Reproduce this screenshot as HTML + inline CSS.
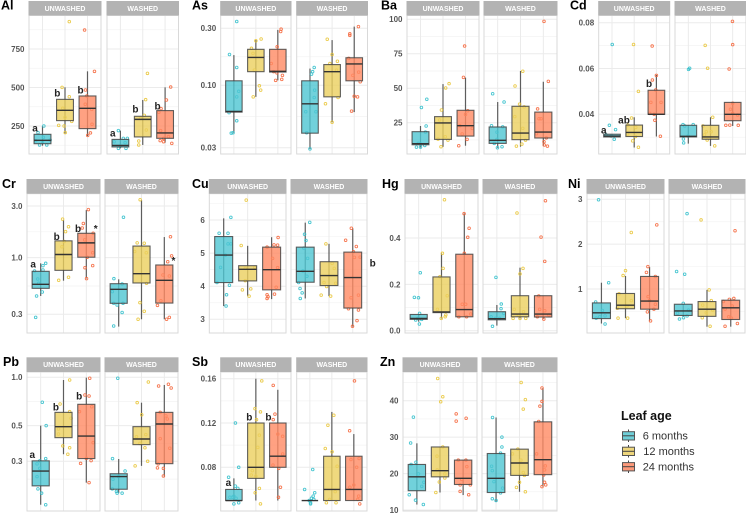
<!DOCTYPE html>
<html lang="en">
<head>
<meta charset="utf-8">
<title>Leaf element concentrations by leaf age and washing</title>
<style>
html,body{margin:0;padding:0;background:#fff;width:746px;height:514px;overflow:hidden}
svg{display:block;filter:blur(.35px);font-family:"Liberation Sans",sans-serif}
.tick{font-size:8px;font-weight:700;fill:#555;text-anchor:end}
.strip{font-size:7px;font-weight:700;fill:#fff;text-anchor:middle}
.title{font-size:12.5px;font-weight:700;fill:#000}
.note{font-size:10px;font-weight:700;fill:#222;text-anchor:middle}
.legend{font-size:11px;fill:#333}
</style>
</head>
<body>
<svg id="chart" xmlns="http://www.w3.org/2000/svg" width="746" height="514" viewBox="0 0 746 514">
<rect width="746" height="514" fill="#fff"/>
<g>
<text x="621" y="420" font-size="12.5" font-weight="700" fill="#111">Leaf age</text>
<g>
<path d="M628.5 429.5V442" stroke="#444" stroke-width="1"/>
<rect x="622.5" y="431.7" width="12" height="8.3" fill="#6fcfd8" stroke="#555" stroke-width="1"/>
<path d="M622.5 435.8H634.5" stroke="#444" stroke-width="1"/>
<text class="legend" x="642.7" y="439.6">6 months</text>
</g>
<g>
<path d="M628.5 445V457.5" stroke="#444" stroke-width="1"/>
<rect x="622.5" y="447.2" width="12" height="8.3" fill="#eed67c" stroke="#555" stroke-width="1"/>
<path d="M622.5 451.3H634.5" stroke="#444" stroke-width="1"/>
<text class="legend" x="643.3" y="455.2">12 months</text>
</g>
<g>
<path d="M628.5 460.5V473" stroke="#444" stroke-width="1"/>
<rect x="622.5" y="462.6" width="12" height="8.3" fill="#fd9a7b" stroke="#555" stroke-width="1"/>
<path d="M622.5 466.7H634.5" stroke="#444" stroke-width="1"/>
<text class="legend" x="642.7" y="470.6">24 months</text>
</g>
</g>
</svg>
<script>
const washStates = ['UNWASHED', 'WASHED'];
const leafAges = ['6 months', '12 months', '24 months'];

/* stats rows: [low whisker, q1, median, q3, high whisker]; order: unwashed 6/12/24, washed 6/12/24 */
/* point rows: [category-unit jitter, value] */
/* note rows: [group index, category-unit offset, value, label] */

const alTicks = [250, 500, 750];
const alTickLabels = ['250', '500', '750'];
const alStats = [[122,135,157,196,250],[202,285,352,423,501],[185,233,365,445,605],[105,114,124,163,220],[127,179,293,313,419],[142,170,205,350,501]];
const alPoints = [
[[.06,250],[-.2,207],[.04,176],[-.13,127],[.19,127],[-.3,155],[.34,159],[0,148]],
[[.19,928],[-.13,501],[.19,440],[-.28,254],[-.04,250],[.01,207],[-.1,365],[0,306],[.3,280]],
[[-.13,873],[.31,605],[-.09,484],[-.03,445],[-.1,391],[.19,358],[.2,261],[.13,205],[.01,189]],
[[-.09,220],[.13,170],[.31,170],[.21,142],[.25,105],[-.09,105],[-.28,148],[0,120]],
[[.21,592],[.13,421],[.07,319],[-.18,153],[-.18,127],[.16,224],[-.1,300]],
[[.25,503],[.06,419],[-.18,363],[-.28,339],[-.2,220],[-.07,170],[.3,137],[-.22,155],[-.07,148],[.15,181]]];
const alNotes = [[0,-.33,235,'a'],[1,-.34,460,'b'],[2,-.31,482,'b'],[3,-.34,202,'a'],[4,-.33,358,'b'],[5,-.34,378,'b']];

const asTicks = [0.03, 0.1, 0.3];
const asTickLabels = ['0.03', '0.10', '0.30'];
const asStats = [[.0397,.0596,.0604,.109,.179],[.08,.13,.171,.2,.239],[.11,.129,.131,.2,.291],[.0293,.0397,.07,.109,.138],[.049,.08,.13,.149,.239],[.0596,.109,.151,.17,.31]];
const asPoints = [
[[.13,.342],[-.2,.181],[.13,.141],[.22,.089],[.13,.08],[-.22,.059],[.13,.0504],[-.12,.0397],[-.04,.04]],
[[0,.236],[.24,.244],[-.2,.204],[-.13,.185],[-.07,.134],[.16,.099],[.22,.091],[-.12,.08]],
[[.15,.295],[.13,.282],[-.03,.21],[-.3,.152],[-.19,.13],[-.04,.127],[.21,.121],[-.1,.11],[.18,.112]],
[[.19,.141],[.12,.13],[.07,.124],[.21,.091],[.19,.079],[-.19,.06],[.27,.06],[-.15,.04],[0,.0293]],
[[-.22,.243],[0,.181],[.24,.159],[-.1,.152],[-.3,.07],[0,.049],[.27,.079],[.2,.134]],
[[.19,.31],[-.2,.27],[-.2,.262],[-.25,.168],[.2,.129],[-.06,.121],[.27,.107],[0,.081],[.15,.08],[-.12,.0608]]];
const asNotes = [];

const baTicks = [25, 50, 75, 100];
const baTickLabels = ['25', '50', '75', '100'];
const baStats = [[7,9,9.8,18.5,22.6],[7.5,12.9,24.8,29.4,53],[8.3,15.3,22.8,34,57.7],[6.8,10,12.2,21.9,40],[7.6,12.7,17.5,36.9,62.5],[8.3,13.9,18.2,32.7,54.7]];
const baPoints = [
[[.28,42],[.04,36],[.25,22.6],[.22,18.2],[-.18,7.3],[0,7.3],[.19,8.5],[.01,9.5],[-.1,10]],
[[.27,53.3],[.12,50.2],[-.07,34.2],[-.09,7.6],[-.22,13.1],[.1,14.8],[.22,12.4],[-.15,27]],
[[-.04,80.6],[-.09,57.9],[.1,33.7],[0,31],[-.25,22.8],[-.15,16.8],[.3,20.9],[.07,12.9],[-.3,8.3]],
[[-.22,46],[.28,40],[-.27,22.8],[-.03,18.2],[.22,22],[-.03,12.9],[-.01,6.8],[.19,7.6],[-.15,10]],
[[.1,62.3],[-.24,51.6],[-.04,38.5],[-.25,29.4],[.1,20.9],[.16,36.5],[-.18,8],[.06,9.5],[.22,12.4]],
[[.03,98.5],[.22,55],[-.25,35],[-.19,27.9],[-.1,27.9],[.13,14],[.03,11.2],[.04,8.8],[.18,8],[-.3,17]]];
const baNotes = [];

const cdTicks = [0.04, 0.06, 0.08];
const cdTickLabels = ['0.04', '0.06', '0.08'];
const cdStats = [[.0301,.0301,.0305,.0313,.0313],[.0255,.0303,.0321,.0353,.0387],[.0303,.04,.04,.0505,.0572],[.0272,.0301,.0304,.0352,.0353],[.0262,.0291,.0301,.0352,.0387],[.0349,.0372,.04,.0452,.0451]];
const cdPoints = [
[[.01,.0705],[-.12,.0352],[.16,.0333],[.1,.0291],[-.27,.031],[-.04,.0305]],
[[-.03,.0705],[.19,.05],[-.12,.0384],[-.28,.0353],[.07,.0343],[-.3,.0314],[.06,.0303],[-.07,.0284],[.19,.0256]],
[[-.19,.0698],[0,.057],[-.18,.055],[-.03,.0506],[-.25,.0452],[.21,.0452],[-.3,.0404],[-.1,.04],[-.07,.0374],[.18,.0304]],
[[.06,.0601],[.01,.0596],[-.24,.0355],[.22,.0355],[-.16,.0349],[-.22,.0292],[-.21,.0275],[-.01,.0305]],
[[-.24,.0701],[-.13,.0601],[.1,.0387],[-.34,.0349],[.03,.0324],[-.19,.0324],[-.15,.0288],[.19,.0262],[-.27,.031]],
[[-.01,.0806],[0,.0704],[-.16,.0598],[0,.0448],[-.1,.0422],[.22,.0397],[0,.0404],[-.31,.0352],[-.13,.0353],[.25,.0352]]];
const cdNotes = [[0,-.37,.0329,'a'],[1,-.46,.0374,'ab'],[2,-.33,.0532,'b']];

const crTicks = [0.3, 1, 3];
const crTickLabels = ['0.3', '1.0', '3.0'];
const crStats = [[.443,.521,.567,.748,.887],[.613,.764,1.07,1.43,2.23],[.644,1.01,1.37,1.68,2.75],[.231,.379,.51,.575,.631],[.27,.584,.712,1.28,3.4],[.27,.381,.618,.856,1.55]];
const crPoints = [
[[.22,.887],[.1,.844],[.1,.77],[-.27,.753],[-.13,.635],[.07,.482],[-.18,.443],[-.22,.281],[-.09,.58]],
[[-.04,2.27],[.22,1.93],[.09,1.74],[.03,1.41],[-.21,.618],[.22,.659],[-.07,1.26]],
[[.09,2.78],[-.13,2.07],[-.18,1.88],[.3,1.68],[-.07,1.46],[.28,1.11],[.04,1.01],[.28,.844],[-.06,.808],[.01,.64]],
[[.21,2.36],[-.21,.64],[.15,.571],[-.28,.486],[-.07,.366],[-.22,.379],[.15,.312],[-.22,.234],[.19,.379]],
[[-.06,3.43],[-.19,1.37],[.12,1.36],[-.3,1.14],[.21,1.11],[-.07,.385],[.12,.32],[-.15,.27],[.22,.58]],
[[.27,1.56],[.32,1.04],[.15,.918],[-.06,.692],[.22,.677],[-.15,.4],[-.3,.363],[.1,.27],[.22,.281]]];
const crNotes = [[0,-.33,.868,'a'],[1,-.3,1.55,'b'],[2,-.36,1.83,'b'],[2,.41,1.83,'*'],[5,.4,.93,'*']];

const cuTicks = [3, 4, 5, 6];
const cuTickLabels = ['3', '4', '5', '6'];
const cuStats = [[3.4,4.11,4.94,5.5,6.05],[3.7,4.16,4.51,4.62,5.22],[3.61,3.89,4.5,5.18,5.48],[3.63,4.12,4.45,5.18,5.92],[3.7,4.02,4.32,4.74,5.28],[2.78,3.34,4.26,5.03,5.75]];
const cuPoints = [
[[.3,6.08],[-.19,5.6],[.18,5.6],[.18,5.28],[.3,5.28],[-.13,4.57],[-.28,4.11],[.24,4.03],[.12,3.74],[.1,3.4],[.07,4.94]],
[[-.06,6.6],[-.27,5.23],[.3,4.57],[-.1,4.17],[-.22,3.89],[.13,3.92],[.06,3.7],[-.1,4.54]],
[[.27,5.47],[.1,5.25],[.25,5.24],[-.19,5.18],[.04,4.84],[.25,4.56],[.19,3.97],[-.19,3.74],[.12,3.76],[-.19,3.63],[-.15,3.68]],
[[.19,5.93],[-.03,5.57],[.03,5.38],[.1,4.84],[.07,4.3],[-.1,4.46],[-.28,4.11],[-.22,3.93],[-.13,3.8],[-.21,3.63],[-.06,5.15]],
[[-.13,5.28],[.22,4.54],[-.33,3.73],[.07,3.7],[-.1,3.99],[.28,4.09],[-.21,4.11],[.13,4.69]],
[[-.06,5.75],[-.3,5.39],[.15,5.2],[.03,5.04],[.07,4.87],[.31,4.88],[-.07,3.65],[.24,3.73],[-.18,3.32],[.24,3.28],[.18,2.96],[-.01,2.79]]];
const cuNotes = [[5,.84,4.68,'b']];

const hgTicks = [0, 0.2, 0.4];
const hgTickLabels = ['0.0', '0.2', '0.4'];
const hgStats = [[.039,.049,.053,.07,.0705],[.053,.078,.081,.232,.334],[.06,.06,.091,.33,.506],[.022,.047,.052,.082,.111],[.053,.06,.072,.151,.272],[.05,.059,.072,.151,.151]];
const hgPoints = [
[[.07,.25],[-.19,.144],[-.01,.142],[.04,.075],[.03,.029],[-.13,.046],[.13,.049],[-.04,.053]],
[[.13,.565],[.04,.334],[.07,.269],[-.07,.233],[.25,.151],[-.18,.092],[.19,.068],[-.01,.053],[.16,.06]],
[[-.01,.505],[.21,.442],[.15,.403],[0,.334],[-.09,.114],[.06,.114],[-.24,.06],[.1,.06],[.28,.072]],
[[-.04,.23],[.19,.115],[.18,.095],[-.19,.019],[-.07,.053],[.12,.053],[.3,.075],[-.25,.06]],
[[-.13,.508],[.13,.269],[0,.245],[-.25,.092],[.15,.082],[-.3,.053],[0,.053],[.25,.053],[-.07,.068]],
[[.1,.561],[-.09,.404],[.07,.299],[-.19,.15],[-.15,.092],[.07,.086],[-.25,.06],[.03,.05],[.25,.068]]];
const hgNotes = [];

const niTicks = [1, 2, 3];
const niTickLabels = ['1', '2', '3'];
const niStats = [[.23,.34,.47,.69,1.14],[.35,.56,.64,.9,1.29],[.29,.55,.73,1.28,1.49],[.38,.41,.51,.66,.66],[.16,.39,.55,.72,.98],[.16,.32,.58,.75,.79]];
const niPoints = [
[[-.12,2.99],[.3,1.14],[-.24,.71],[.04,.52],[.15,.4],[-.22,.35],[.15,.22],[-.07,.38]],
[[.24,2.26],[0,1.41],[-.1,1.3],[.24,.74],[-.31,.35],[.09,.35],[-.27,.89],[.06,.62],[-.34,.57]],
[[.3,2.43],[-.07,1.5],[-.13,1.37],[.24,1.28],[-.06,.83],[0,.74],[.24,.66],[-.09,.49],[.18,.55],[.04,.29]],
[[.16,2.68],[-.28,1.39],[.06,1.33],[0,.68],[.16,.4],[-.16,.33],[.01,.36],[-.24,.46],[.22,.53]],
[[-.25,2.54],[.09,.98],[.18,.74],[-.18,.64],[-.03,.47],[-.2,.36],[.13,.17],[.24,.53]],
[[.18,2.3],[.13,.79],[-.06,.77],[-.31,.72],[.06,.62],[-.24,.55],[.03,.35],[.28,.23],[-.24,.17],[-.09,.38]]];
const niNotes = [];

const pbTicks = [0.3, 0.5, 1];
const pbTickLabels = ['0.3', '0.5', '1.0'];
const pbStats = [[.161,.211,.261,.302,.5],[.332,.421,.493,.605,.962],[.221,.312,.431,.679,.995],[.19,.201,.241,.251,.31],[.281,.381,.413,.493,.695],[.241,.29,.512,.605,.896]];
const pbPoints = [
[[.07,.699],[.24,.5],[.22,.312],[-.04,.302],[-.16,.289],[-.04,.271],[-.16,.241],[-.12,.202],[.04,.19],[.22,.161]],
[[.27,.962],[-.15,.682],[.27,.611],[.33,.556],[-.22,.477],[-.22,.444],[-.03,.374],[.27,.364],[.19,.332]],
[[.15,.986],[-.06,.776],[.12,.765],[-.3,.611],[.24,.656],[.3,.392],[0,.313],[-.25,.291],[.21,.303],[.12,.221]],
[[-.04,.986],[-.27,.312],[.28,.261],[-.25,.232],[0,.241],[-.28,.202],[-.07,.19],[.15,.19],[-.1,.195]],
[[.3,.935],[-.19,.695],[.01,.585],[-.28,.281],[.27,.3],[.19,.44],[-.07,.388],[.15,.364],[-.22,.427]],
[[.18,.905],[.3,.858],[-.25,.883],[-.18,.605],[.07,.575],[.13,.55],[-.18,.415],[.24,.362],[-.3,.273],[-.04,.271],[-.04,.243],[-.27,.289]]];
const pbNotes = [[0,-.37,.328,'a'],[1,-.33,.65,'b'],[2,-.31,.758,'b']];

const sbTicks = [0.08, 0.12, 0.16];
const sbTickLabels = ['0.08', '0.12', '0.16'];
const sbStats = [[.05,.05,.05,.06,.07],[.05,.07,.08,.12,.16],[.05,.08,.09,.12,.15],[.05,.05,.05,.05,.05],[.05,.05,.06,.09,.13],[.05,.05,.06,.09,.11]];
const sbPoints = [
[[.07,.12],[.22,.08],[-.24,.071],[.07,.063],[.18,.061],[-.18,.053],[0,.054],[.1,.052],[0,.047],[.22,.048],[-.07,.053]],
[[.27,.158],[-.04,.133],[.21,.13],[.03,.123],[.16,.109],[.09,.098],[-.16,.077],[0,.072],[-.21,.073],[.16,.061],[-.03,.057],[.21,.047]],
[[-.21,.154],[-.13,.128],[-.21,.123],[0,.11],[.22,.108],[.22,.092],[-.22,.082],[.04,.079],[.12,.062],[.03,.053]],
[[-.24,.06],[.13,.078],[.22,.057],[.15,.054],[.07,.052],[.03,.048],[.03,.047],[-.03,.05],[.18,.051]],
[[.09,.127],[-.18,.118],[-.3,.097],[.01,.094],[.24,.081],[.15,.058],[-.1,.051],[-.25,.048],[.19,.048]],
[[.03,.158],[-.19,.113],[-.13,.087],[.24,.088],[.13,.08],[0,.064],[-.18,.062],[.22,.054],[.18,.051],[.27,.047]]];
const sbNotes = [[0,-.25,.0656,'a'],[1,-.3,.1248,'b'],[2,-.43,.1248,'b']];

const znTicks = [10, 20, 30, 40];
const znTickLabels = ['10', '20', '30', '40'];
const znStats = [[11.5,15.3,19.1,22.5,28.3],[14.8,19.1,20.8,27.3,27.3],[14.1,17,18.7,23.7,23.7],[12.3,14.8,18.7,25.5,35.4],[15,19.5,22.9,26.7,26.7],[16.4,19.7,23.8,34.2,43.5]];
const znPoints = [
[[-.15,35.5],[-.27,28.4],[-.04,23.1],[-.25,22.5],[.07,19.9],[.3,17.6],[.21,16.5],[-.33,14.2],[-.06,12.7],[.28,11.5]],
[[-.1,46.1],[.12,41.1],[.03,39.7],[.12,27.3],[-.13,24.8],[-.12,21],[.21,19.9],[.21,18.8],[-.03,17.7],[-.18,14.8]],
[[-.3,36.4],[-.3,34.4],[.13,35.2],[-.21,23.7],[.12,23.7],[.16,21.9],[-.06,18.4],[-.13,16.9],[.31,16.9],[-.13,15.1],[.24,14.2]],
[[-.15,35.4],[.25,30],[.25,27.3],[.19,25.6],[-.19,22],[-.16,20.8],[-.09,17.8],[.28,16],[.19,14.7],[-.16,13.1],[0,12.6]],
[[.07,45],[.25,40.3],[.16,37.7],[-.07,26.7],[-.3,25.4],[.06,23.7],[.16,20.3],[.21,19.5],[0,17.6],[-.13,16.2],[.25,15]],
[[-.04,43.5],[-.04,39.8],[-.13,38.5],[-.18,34.3],[-.27,25.4],[.1,22.1],[.07,21],[.07,17.6],[.12,16.9],[-.04,16.4],[.03,19.6]]];
const znNotes = [];

const facets = [
 {title:'Al', tx:1, ty:9.7, stats:alStats, points:alPoints, notes:alNotes, ticks:alTicks, labels:alTickLabels, log:false, domain:[250,750], range:[126,49], top:1, strip:15.5, bottom:154, u:[29,101], w:[107,178.5]},
 {title:'As', tx:192, ty:9.7, stats:asStats, points:asPoints, notes:asNotes, ticks:asTicks, labels:asTickLabels, log:true, domain:[0.03,0.3], range:[147.7,28.3], top:1, strip:15.5, bottom:154, u:[220.7,291], w:[296.7,367.5]},
 {title:'Ba', tx:381, ty:9.4, stats:baStats, points:baPoints, notes:baNotes, ticks:baTicks, labels:baTickLabels, log:false, domain:[25,100], range:[122.7,19.3], top:1, strip:15.5, bottom:154, u:[407,479], w:[484,557]},
 {title:'Cd', tx:570, ty:9.4, stats:cdStats, points:cdPoints, notes:cdNotes, ticks:cdTicks, labels:cdTickLabels, log:false, domain:[0.04,0.08], range:[114.3,22.7], top:1, strip:15.5, bottom:154, u:[598.7,669.7], w:[675,746]},
 {title:'Cr', tx:2, ty:188, stats:crStats, points:crPoints, notes:crNotes, ticks:crTicks, labels:crTickLabels, log:true, domain:[0.3,3], range:[314.3,206], top:179, strip:193.7, bottom:333, u:[27,100], w:[105,178]},
 {title:'Cu', tx:192, ty:188, stats:cuStats, points:cuPoints, notes:cuNotes, ticks:cuTicks, labels:cuTickLabels, log:false, domain:[3,6], range:[319.3,220], top:179, strip:193.7, bottom:333, u:[209.3,286], w:[291,367]},
 {title:'Hg', tx:382, ty:188, stats:hgStats, points:hgPoints, notes:hgNotes, ticks:hgTicks, labels:hgTickLabels, log:false, domain:[0,0.4], range:[330.7,238], top:179, strip:193.7, bottom:333, u:[405,478], w:[483,557]},
 {title:'Ni', tx:568, ty:188, stats:niStats, points:niPoints, notes:niNotes, ticks:niTicks, labels:niTickLabels, log:false, domain:[1,3], range:[289,199.3], top:179, strip:193.7, bottom:333, u:[587,664], w:[669,745]},
 {title:'Pb', tx:3, ty:366, stats:pbStats, points:pbPoints, notes:pbNotes, ticks:pbTicks, labels:pbTickLabels, log:true, domain:[0.3,1], range:[461.3,377.3], top:357.3, strip:372, bottom:511, u:[27,100], w:[105,178]},
 {title:'Sb', tx:192, ty:366, stats:sbStats, points:sbPoints, notes:sbNotes, ticks:sbTicks, labels:sbTickLabels, log:false, domain:[0.08,0.16], range:[467.3,378.7], top:357.3, strip:372, bottom:511, u:[220.7,291], w:[296.7,367]},
 {title:'Zn', tx:380, ty:366, stats:znStats, points:znPoints, notes:znNotes, ticks:znTicks, labels:znTickLabels, log:false, domain:[10,40], range:[510,400.7], top:357.3, strip:372, bottom:511, u:[403,477], w:[482,557]}
];

const NS = 'http://www.w3.org/2000/svg';
const root = document.getElementById('chart');
const ageFill = ['#4ec6d2', '#ebd05e', '#ff8a63'];
const agePoint = ['#35c0cc', '#e9c73c', '#f5693f'];

function make(parent, tag, attrs, text) {
  const node = document.createElementNS(NS, tag);
  for (const key in attrs) node.setAttribute(key, attrs[key]);
  if (text !== undefined) node.textContent = text;
  parent.appendChild(node);
  return node;
}
function yScale(f) {
  const t = f.log ? Math.log10 : (v => v);
  const d0 = t(f.domain[0]), d1 = t(f.domain[1]);
  return v => f.range[0] + (t(v) - d0) * (f.range[1] - f.range[0]) / (d1 - d0);
}
function xScale(span) {
  const unit = (span[1] - span[0]) / 3.2;
  return { unit: unit, at: pos => span[0] + (pos + 0.6) * unit };
}

facets.forEach(f => {
  const slug = f.title.toLowerCase();
  const y = yScale(f);
  const facet = make(root, 'g', {});
  
  

  const heading = make(facet, 'text', {class: 'title', x: f.tx, y: f.ty}, f.title);
  
  

  const tickYs = f.ticks.map(y);
  f.labels.forEach((label, i) => {
    const tick = make(facet, 'text', {class: 'tick', x: f.u[0] - 4.5, y: tickYs[i] + 2.9}, label);
    
    
  });

  const minorYs = [];
  tickYs.forEach((py, i) => { if (i) minorYs.push((py + tickYs[i - 1]) / 2); });
  const step = tickYs[0] - tickYs[1];
  minorYs.push(tickYs[0] + step / 2, tickYs[tickYs.length - 1] - step / 2);

  [f.u, f.w].forEach((span, p) => {
    const x = xScale(span);
    const panel = make(facet, 'g', {});
    
    

    minorYs.filter(py => py > f.strip && py < f.bottom).forEach(py => {
      const line = make(panel, 'line', {x1: span[0], x2: span[1], y1: py, y2: py, stroke: '#f3f3f3', 'stroke-width': 0.7});
      
      
    });
    tickYs.forEach(py => {
      const line = make(panel, 'line', {x1: span[0], x2: span[1], y1: py, y2: py, stroke: '#ebebeb', 'stroke-width': 1});
      
      
    });
    leafAges.forEach((age, c) => {
      const cx = x.at(c);
      const line = make(panel, 'line', {x1: cx, x2: cx, y1: f.strip, y2: f.bottom, stroke: '#ebebeb', 'stroke-width': 1});
      
      
    });

    leafAges.forEach((age, c) => {
      const idx = p * 3 + c;
      const cx = x.at(c);
      const halfW = 0.375 * x.unit;
      const s = f.stats[idx];
      const group = make(panel, 'g', {});
      
      

      const whisker = make(group, 'line', {x1: cx, x2: cx, y1: y(s[0]), y2: y(s[4]), stroke: '#444', 'stroke-width': 1.2, 'stroke-opacity': .85});
      
      

      f.points[idx].forEach(pt => {
        const dot = make(group, 'circle', {cx: cx + pt[0] * x.unit, cy: y(pt[1]), r: 1.3, fill: 'none', stroke: agePoint[c], 'stroke-width': .9, 'stroke-opacity': .9});
        
        
      });

      const box = make(group, 'rect', {x: cx - halfW, y: y(s[3]), width: 2 * halfW, height: Math.max(y(s[1]) - y(s[3]), 0), fill: ageFill[c], 'fill-opacity': .8, stroke: '#444', 'stroke-width': 1.1, 'stroke-opacity': .85});
      
      

      const median = make(group, 'line', {x1: cx - halfW, x2: cx + halfW, y1: y(s[2]), y2: y(s[2]), stroke: '#333', 'stroke-width': 1.4});
      
      
    });

    const frame = make(panel, 'rect', {x: span[0], y: f.strip, width: span[1] - span[0], height: f.bottom - f.strip, fill: 'none', stroke: '#d9d9d9', 'stroke-width': 1});
    
    

    const strip = make(panel, 'rect', {x: span[0] - .5, y: f.top, width: span[1] - span[0] + 1, height: f.strip - f.top, fill: '#b3b3b3'});
    
    

    const stripText = make(panel, 'text', {class: 'strip', x: (span[0] + span[1]) / 2, y: (f.top + f.strip) / 2 + 2.5}, washStates[p]);
    
    
  });

  f.notes.forEach(n => {
    const span = n[0] < 3 ? f.u : f.w;
    const x = xScale(span);
    const note = make(facet, 'text', {class: 'note', x: x.at(n[0] % 3) + n[1] * x.unit, y: y(n[2]) + 3}, n[3]);
    
    
  });
});
</script>
</body>
</html>
